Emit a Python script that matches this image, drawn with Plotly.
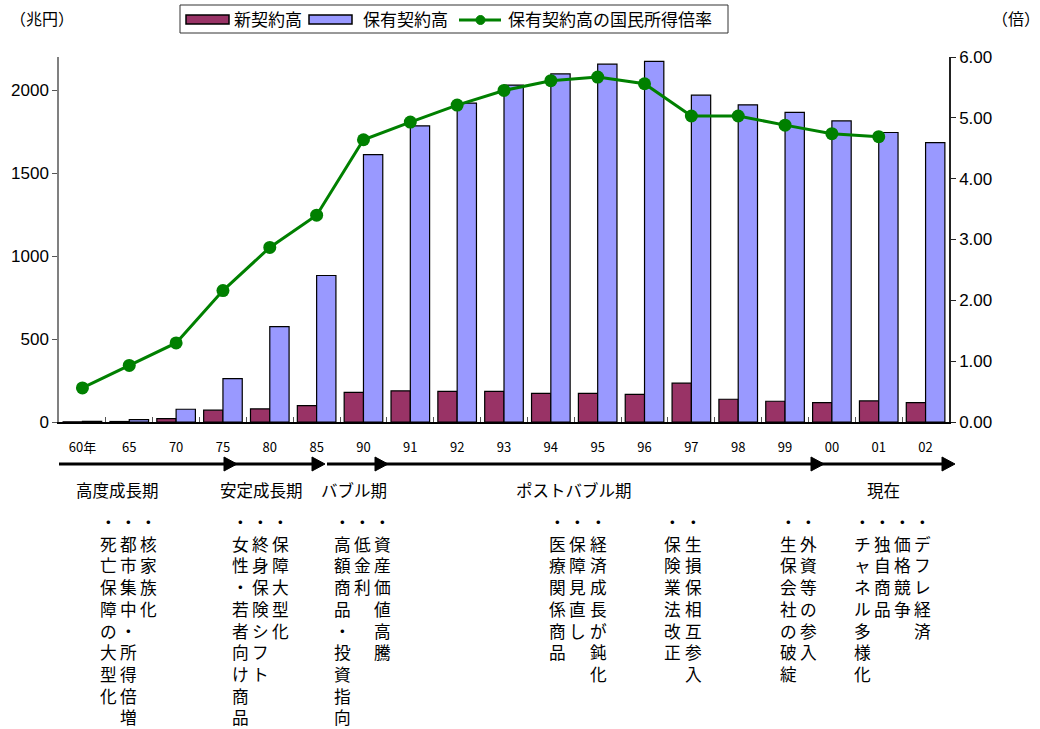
import plotly.graph_objects as go

# ---- data ----
years = ["60年", "65", "70", "75", "80", "85", "90", "91", "92", "93",
         "94", "95", "96", "97", "98", "99", "00", "01", "02"]
new_contracts = [1, 3, 20, 71, 79, 99, 178, 188, 185, 185,
                 173, 173, 166, 234, 137, 125, 117, 127, 117]          # 兆円
holdings = [4, 14, 77, 262, 575, 883, 1611, 1785, 1922, 2031,
            2098, 2157, 2174, 1970, 1912, 1866, 1815, 1745, 1684]       # 兆円
income_ratio = [0.56, 0.93, 1.30, 2.16, 2.87, 3.40, 4.64, 4.93, 5.21, 5.45,
                5.61, 5.67, 5.56, 5.03, 5.03, 4.88, 4.74, 4.69, None]   # 倍

left_ticks = [0, 500, 1000, 1500, 2000]
right_ticks = [0, 1, 2, 3, 4, 5, 6]

series_names = ["新契約高", "保有契約高", "保有契約高の国民所得倍率"]
periods = ["高度成長期", "安定成長期", "バブル期", "ポストバブル期", "現在"]
notes = [
    ["・死亡保障の大型化", "・都市集中・所得倍増", "・核家族化"],
    ["・女性・若者向け商品", "・終身保険シフト", "・保障大型化"],
    ["・高額商品・投資指向", "・低金利", "・資産価値高騰"],
    ["・医療関係商品", "・保障見直し", "・経済成長が鈍化"],
    ["・保険業法改正", "・生損保相互参入"],
    ["・生保会社の破綻", "・外資等の参入"],
    ["・チャネル多様化", "・独自商品", "・価格競争", "・デフレ経済"],
]

MAROON, BLUE, GREEN = "#993366", "#9999FF", "#008000"

# ---- page geometry (pixels) ----
W, H = 1040, 729
PL, PR, PT, PB = 59, 949, 57, 422


def px(x):
    return (x - PL) / (PR - PL)


def py(y):
    return (PB - y) / (PB - PT)


JP = "Noto Sans CJK JP"
NUM = "Liberation Sans"

fig = go.Figure()
fig.add_trace(go.Bar(
    x=years, y=new_contracts, name=series_names[0],
    marker=dict(color=MAROON, line=dict(color="#000000", width=1.2)),
))
fig.add_trace(go.Bar(
    x=years, y=holdings, name=series_names[1],
    marker=dict(color=BLUE, line=dict(color="#000000", width=1.2)),
))
fig.add_trace(go.Scatter(
    x=years, y=income_ratio, name=series_names[2], yaxis="y2",
    mode="lines+markers",
    line=dict(color=GREEN, width=3),
    marker=dict(color=GREEN, size=13),
    connectgaps=False,
))

annotations = []
shapes = []


def label(text, x, y, size=16, xanchor="center", yanchor="middle", family=JP):
    annotations.append(dict(text=text, x=px(x), y=py(y), xref="paper", yref="paper",
                            xanchor=xanchor, yanchor=yanchor, showarrow=False,
                            borderpad=0, font=dict(family=family, size=size, color="#000")))


def rect(x0, y0, x1, y1, fill, line_color="#000", lw=1):
    shapes.append(dict(type="rect", xref="paper", yref="paper",
                       x0=px(x0), x1=px(x1), y0=py(y0), y1=py(y1),
                       fillcolor=fill, line=dict(color=line_color, width=lw)))


# axis unit captions
label("（兆円）", 42, 18, size=16)
label("（倍）", 1016, 18, size=16)

# legend box with Excel-style wide swatches
LEG_Y = 19
rect(180, 5, 728, 33, "white", "#333", 1)
rect(186, 15, 229, 24, MAROON, "#000", 1.5)
label(series_names[0], 233, LEG_Y, size=17, xanchor="left")
rect(309, 15, 352, 24, BLUE, "#000", 1.5)
label(series_names[1], 362, LEG_Y, size=17, xanchor="left")
shapes.append(dict(type="line", xref="paper", yref="paper",
                   x0=px(459), x1=px(501), y0=py(LEG_Y + 1), y1=py(LEG_Y + 1),
                   line=dict(color=GREEN, width=3)))
shapes.append(dict(type="circle", xref="paper", yref="paper",
                   x0=px(476), x1=px(485), y0=py(LEG_Y - 3.5), y1=py(LEG_Y + 5.5),
                   fillcolor=GREEN, line=dict(color=GREEN, width=1)))
label(series_names[2], 507, LEG_Y, size=17, xanchor="left")

# timeline arrows
ARROW_Y = 464
for x0, x1 in [(59, 322), (327, 948)]:
    shapes.append(dict(type="line", xref="paper", yref="paper",
                       x0=px(x0), x1=px(x1), y0=py(ARROW_Y), y1=py(ARROW_Y),
                       line=dict(color="#000", width=3)))
for tip in [237, 325, 388, 824, 955]:
    path = "M {a},{b} L {c},{d} L {e},{f} Z".format(
        a=px(tip - 13), b=py(ARROW_Y - 7), c=px(tip), d=py(ARROW_Y),
        e=px(tip - 13), f=py(ARROW_Y + 7))
    shapes.append(dict(type="path", xref="paper", yref="paper", path=path,
                       fillcolor="#000", line=dict(color="#000", width=1)))

# period names
period_x = [117, 261, 354, 574, 883]
for name, cx in zip(periods, period_x):
    label(name, cx, 490, size=16.5)

# vertical notes under each period
note_x = [
    [108, 128, 148],
    [240, 260, 280],
    [342, 362, 382],
    [557, 577, 598],
    [672, 693],
    [788, 808],
    [862, 882, 902, 922],
]
for group, xs in zip(notes, note_x):
    for text, cx in zip(group, xs):
        annotations.append(dict(
            text="<br>".join(list(text)), x=px(cx), y=py(510),
            xref="paper", yref="paper", xanchor="center", yanchor="top",
            showarrow=False, align="center", borderpad=0, borderwidth=0,
            font=dict(family=JP, size=16.7, color="#000")))

fig.update_layout(
    width=W, height=H,
    margin=dict(l=PL, r=W - PR, t=PT, b=H - PB, pad=0, autoexpand=False),
    paper_bgcolor="white", plot_bgcolor="white",
    barmode="group", bargap=0.176, bargroupgap=0,
    font=dict(family=JP, size=14, color="#000"),
    showlegend=False,
    xaxis=dict(type="category", range=[-0.5, len(years) - 0.5],
               showline=True, linecolor="#000", linewidth=2,
               ticks="inside", tickson="boundaries", ticklen=5, tickcolor="#555",
               tickfont=dict(family=JP, size=13, color="#000"),
               ticklabelstandoff=12, showgrid=False, zeroline=False),
    yaxis=dict(range=[0, 2200], tickvals=left_ticks, showline=True, linecolor="#808080",
               linewidth=1.5, ticks="outside", ticklen=5, tickcolor="#555",
               tickfont=dict(family=NUM, size=17, color="#000"),
               showgrid=False, zeroline=False),
    yaxis2=dict(range=[0, 6], tickvals=right_ticks,
                ticktext=["{:.2f}".format(v) for v in right_ticks],
                overlaying="y", side="right", showline=True, linecolor="#222",
                linewidth=1.5, ticks="outside", ticklen=5, tickcolor="#222",
                tickfont=dict(family=NUM, size=17, color="#000"),
                showgrid=False, zeroline=False),
    annotations=annotations,
    shapes=shapes,
)

fig.write_html("out.html")
